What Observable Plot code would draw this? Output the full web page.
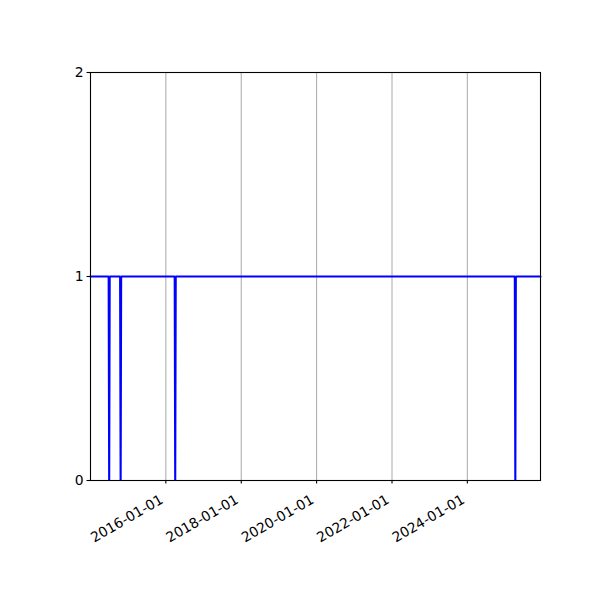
<!DOCTYPE html>
<html>
<head>
<meta charset="utf-8">
<script src="https://cdn.jsdelivr.net/npm/d3@7"></script>
<script src="https://cdn.jsdelivr.net/npm/@observablehq/plot@0.6"></script>
<style>
  html, body { margin: 0; padding: 0; background: #fff; }
  svg { display: block; }
</style>
</head>
<body>
<div id="chart"></div>
<script>
// Series (value 1 everywhere except brief drops to 0)
const dates = ["2014-01-01","2014-06-26","2014-07-01","2014-07-06","2014-10-15","2014-10-20","2014-10-25","2016-03-27","2016-04-01","2016-04-06","2025-04-05","2025-04-10","2025-04-15","2025-12-10"];
const values = [1,1,0,1,1,0,1,1,0,1,1,0,1,1];
const xDomain = ["2014-01-01", "2025-12-10"];
const xTicks = ["2016-01-01","2018-01-01","2020-01-01","2022-01-01","2024-01-01"];
const yTicks = [0, 1, 2];

const parse = d3.utcParse("%Y-%m-%d");
const data = dates.map((d, i) => ({date: parse(d), value: values[i]}));
const xt = xTicks.map(parse);

const chart = Plot.plot({
  width: 600,
  height: 600,
  marginLeft: 90,
  marginRight: 60,
  marginTop: 72,
  marginBottom: 120,
  style: {fontFamily: "DejaVu Sans", fontSize: "13.9px", background: "#fff", color: "#000"},
  x: {type: "utc", domain: xDomain.map(parse)},
  y: {domain: [0, 2]},
  marks: [
    Plot.gridX(xt, {stroke: "#b0b0b0", strokeOpacity: 1, strokeWidth: 1.1}),
    Plot.line(data, {x: "date", y: "value", stroke: "#0000ff", strokeWidth: 2.1, strokeLinejoin: "miter", curve: "linear"}),
    Plot.frame({stroke: "#000", strokeWidth: 1.1}),
    Plot.axisY(yTicks, {tickSize: 3.5, tickPadding: 3.5, tickFormat: d3.format("d"), label: null, stroke: "#000", strokeWidth: 1.1, fill: "#000"}),
    Plot.axisX(xt, {tickSize: 3.5, tickFormat: () => "", label: null, stroke: "#000", strokeWidth: 1.1}),
    Plot.text(xt, {x: d => d, text: d3.utcFormat("%Y-%m-%d"), frameAnchor: "bottom", rotate: -30, textAnchor: "end", lineAnchor: "middle", dx: -4, dy: 18, fill: "#000", fontSize: 13.9})
  ]
});
document.getElementById("chart").appendChild(chart);
</script>
</body>
</html>
